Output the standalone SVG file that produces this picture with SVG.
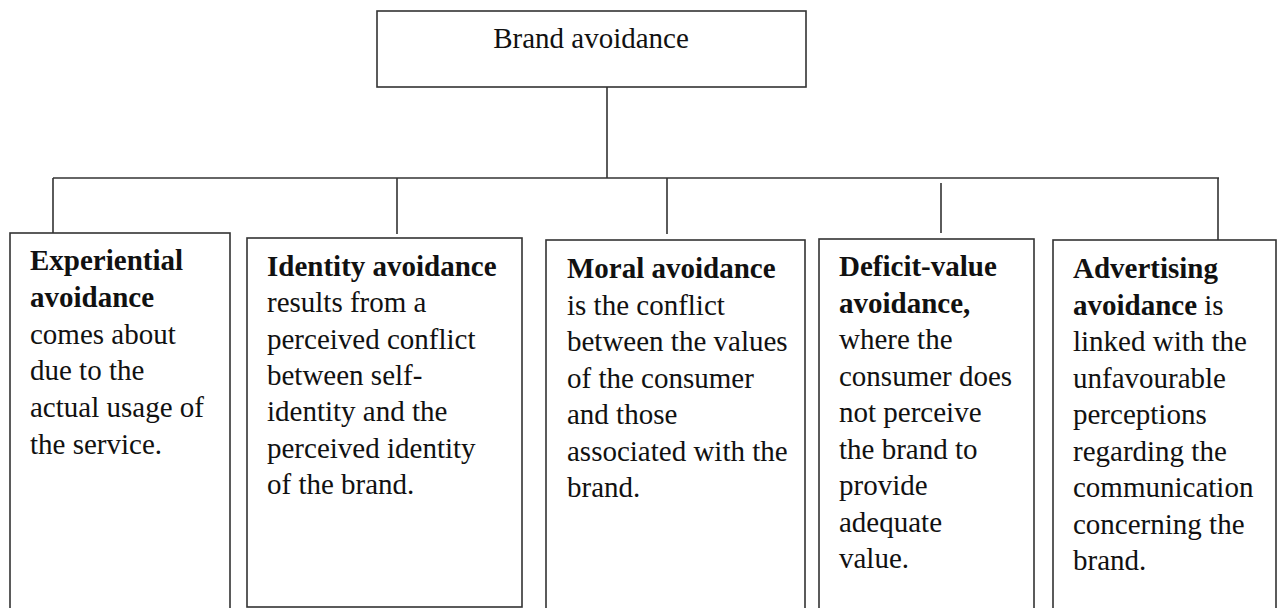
<svg xmlns="http://www.w3.org/2000/svg" width="1283" height="608" viewBox="0 0 1283 608">
<style>
.box{fill:#fff;stroke:#333;stroke-width:1.6}
.ln{stroke:#333;stroke-width:1.6;fill:none}
text{font-family:"Liberation Serif","Times New Roman",serif;font-size:29px;fill:#111}
.b{font-weight:bold}
</style>
<rect x="0" y="0" width="1283" height="608" fill="#fff"/>
<g id="connectors">
<line class="ln" x1="607" y1="87" x2="607" y2="178"/>
<line class="ln" x1="53" y1="178" x2="1219" y2="178"/>
<line class="ln" x1="53" y1="178" x2="53" y2="233"/>
<line class="ln" x1="397" y1="178" x2="397" y2="234"/>
<line class="ln" x1="667" y1="178" x2="667" y2="234"/>
<line class="ln" x1="941" y1="183" x2="941" y2="233"/>
<line class="ln" x1="1218" y1="178" x2="1218" y2="240"/>
</g>
<g id="root">
<rect class="box" x="377" y="11" width="429" height="76"/>
<text x="591" y="48" text-anchor="middle">Brand avoidance</text>
</g>
<g id="experiential">
<rect class="box" x="10" y="233" width="220" height="385"/>
<text x="30" y="270"><tspan class="b">Experiential</tspan><tspan x="30" dy="36.8" class="b">avoidance</tspan><tspan x="30" dy="36.8">comes about</tspan><tspan x="30" dy="36.8">due to the</tspan><tspan x="30" dy="36.8">actual usage of</tspan><tspan x="30" dy="36.8">the service.</tspan></text>
</g>
<g id="identity">
<rect class="box" x="247" y="238" width="275" height="369"/>
<text x="267" y="276"><tspan class="b">Identity avoidance</tspan><tspan x="267" dy="36.3">results from a</tspan><tspan x="267" dy="36.3">perceived conflict</tspan><tspan x="267" dy="36.3">between self-</tspan><tspan x="267" dy="36.3">identity and the</tspan><tspan x="267" dy="36.3">perceived identity</tspan><tspan x="267" dy="36.3">of the brand.</tspan></text>
</g>
<g id="moral">
<rect class="box" x="546" y="240" width="259" height="378"/>
<text x="567" y="278"><tspan class="b">Moral avoidance</tspan><tspan x="567" dy="36.5">is the conflict</tspan><tspan x="567" dy="36.5">between the values</tspan><tspan x="567" dy="36.5">of the consumer</tspan><tspan x="567" dy="36.5">and those</tspan><tspan x="567" dy="36.5">associated with the</tspan><tspan x="567" dy="36.5">brand.</tspan></text>
</g>
<g id="deficit">
<rect class="box" x="819" y="239" width="215" height="379"/>
<text x="839" y="276"><tspan class="b">Deficit-value</tspan><tspan x="839" dy="36.5" class="b">avoidance,</tspan><tspan x="839" dy="36.5">where the</tspan><tspan x="839" dy="36.5">consumer does</tspan><tspan x="839" dy="36.5">not perceive</tspan><tspan x="839" dy="36.5">the brand to</tspan><tspan x="839" dy="36.5">provide</tspan><tspan x="839" dy="36.5">adequate</tspan><tspan x="839" dy="36.5">value.</tspan></text>
</g>
<g id="advertising">
<rect class="box" x="1053" y="240" width="223" height="378"/>
<text x="1073" y="278"><tspan class="b">Advertising</tspan><tspan x="1073" dy="36.5"><tspan class="b">avoidance</tspan> is</tspan><tspan x="1073" dy="36.5">linked with the</tspan><tspan x="1073" dy="36.5">unfavourable</tspan><tspan x="1073" dy="36.5">perceptions</tspan><tspan x="1073" dy="36.5">regarding the</tspan><tspan x="1073" dy="36.5">communication</tspan><tspan x="1073" dy="36.5">concerning the</tspan><tspan x="1073" dy="36.5">brand.</tspan></text>
</g>
</svg>
